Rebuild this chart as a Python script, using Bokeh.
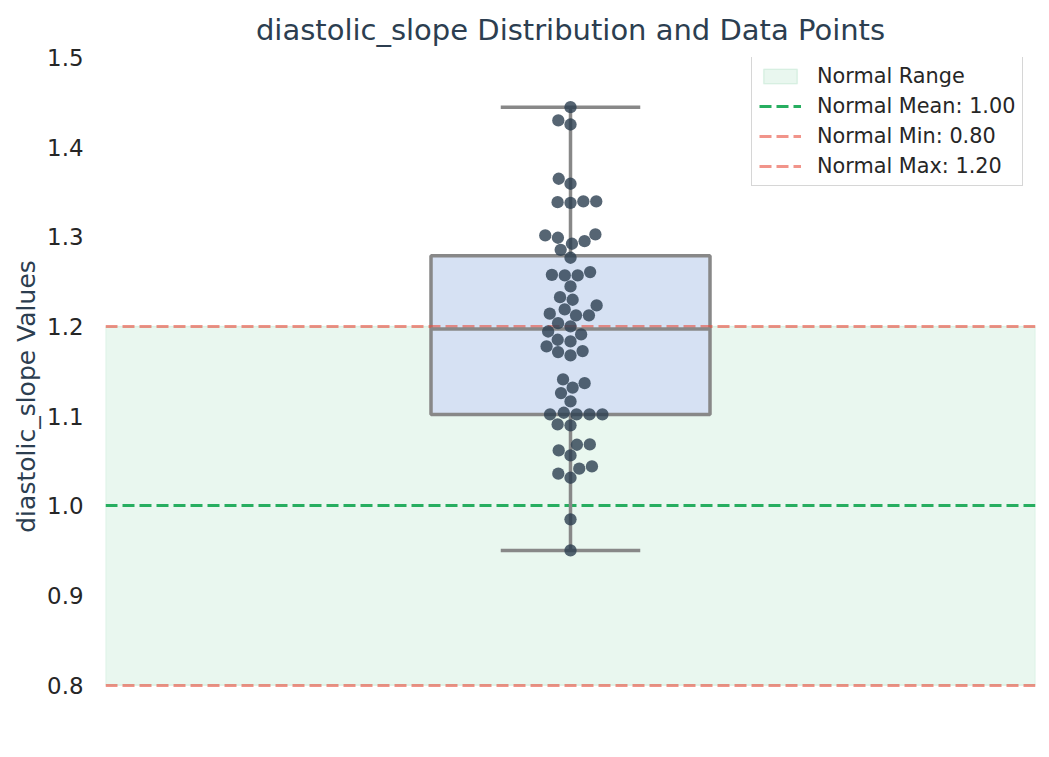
import numpy as np
from bokeh.plotting import figure
from bokeh.models import Range1d, FixedTicker, NumeralTickFormatter, Legend, LegendItem
from bokeh.embed import file_html
from bokeh.resources import INLINE

# ---------------- data ----------------
metric = "diastolic_slope"
values = [
    0.9504, 0.985,
    1.0314, 1.0359, 1.0415, 1.044,
    1.0563, 1.0619, 1.0682, 1.0686,
    1.0899, 1.0909,
    1.102, 1.102, 1.102, 1.102, 1.1039,
    1.1165, 1.1258, 1.1318, 1.1369, 1.141,
    1.1678, 1.1715, 1.1726, 1.1778,
    1.1834, 1.1853, 1.1912, 1.1945,
    1.2001, 1.2038,
    1.2125, 1.2125, 1.2143, 1.2191,
    1.2235, 1.2299, 1.2328, 1.2447,
    1.257, 1.257, 1.2577, 1.2607,
    1.2767, 1.2856, 1.2923, 1.2952,
    1.299, 1.3016, 1.3027,
    1.338, 1.3387, 1.3395, 1.3395,
    1.3592, 1.3648,
    1.4253, 1.4298, 1.4446,
]
normal_min = 0.80
normal_mean = 1.00
normal_max = 1.20
y_ticks = [0.8, 0.9, 1.0, 1.1, 1.2, 1.3, 1.4, 1.5]
y_lo, y_hi = 0.744, 1.5
title_text = f"{metric} Distribution and Data Points"

# ---------------- layout constants ----------------
W, H = 1041, 748
BL, BR, BT, BB = 105, 6, 57, 13
FRAME_W = W - BL - BR
FRAME_H = H - BT - BB
X_LO, X_HI = -0.5, 0.5
BOX_W = 0.3
CAP_W = 0.15
DOT_D = 12.3
FONT = "DejaVu Sans"

# ---------------- box statistics ----------------
v = np.asarray(values, dtype=float)
q1, med, q3 = np.percentile(v, [25, 50, 75])
iqr = q3 - q1
w_lo = v[v >= q1 - 1.5 * iqr].min()
w_hi = v[v <= q3 + 1.5 * iqr].max()


# ---------------- swarm layout (seaborn-like beeswarm, in pixels) ----------------
def beeswarm(vals, r, py_per_unit):
    vals = np.asarray(vals, dtype=float)
    order = np.argsort(vals, kind="stable")
    ys = vals[order] * py_per_unit
    swarm = []
    for y in ys:
        neighbors = []
        for (xj, yj) in reversed(swarm):
            if (y - yj) < 2 * r:
                neighbors.append((xj, yj))
            else:
                break
        cands = [0.0]
        left_first = True
        for (xj, yj) in neighbors:
            dy = y - yj
            dx = np.sqrt(max((2 * r) ** 2 - dy ** 2, 0)) * 1.05
            pair = [xj - dx, xj + dx] if left_first else [xj + dx, xj - dx]
            cands.extend(pair)
            left_first = not left_first
        cands = np.array(cands)
        cands = cands[np.argsort(np.abs(cands), kind="stable")]
        chosen = cands[0]
        if neighbors:
            nb = np.array(neighbors)
            for c in cands:
                d2 = (nb[:, 0] - c) ** 2 + (nb[:, 1] - y) ** 2
                if np.all(d2 >= (2 * r) ** 2):
                    chosen = c
                    break
        swarm.append((chosen, y))
    out = np.empty(len(vals))
    out[order] = [s[0] for s in swarm]
    return out


px_offsets = beeswarm(v, DOT_D / 2, FRAME_H / (y_hi - y_lo))
xs = px_offsets / (FRAME_W / (X_HI - X_LO))

# ---------------- figure ----------------
p = figure(
    width=W, height=H,
    x_range=Range1d(X_LO, X_HI), y_range=Range1d(y_lo, y_hi),
    output_backend="svg", toolbar_location=None,
    min_border_left=BL, min_border_right=BR, min_border_top=BT, min_border_bottom=BB,
    title=title_text,
)
p.background_fill_color = "white"
p.border_fill_color = "white"
p.outline_line_color = None
p.grid.visible = False
p.xaxis.visible = False

p.title.text_font = FONT
p.title.text_font_size = "29px"
p.title.text_font_style = "normal"
p.title.text_color = "#2c3e50"
p.title.align = "center"
p.title.standoff = 21

ya = p.yaxis[0]
ya.ticker = FixedTicker(ticks=y_ticks)
ya.formatter = NumeralTickFormatter(format="0.0")
ya.axis_label = f"{metric} Values"
ya.axis_label_text_font = FONT
ya.axis_label_text_font_size = "25px"
ya.axis_label_text_font_style = "normal"
ya.axis_label_text_color = "#2c3e50"
ya.axis_label_standoff = 3
ya.major_label_text_font = FONT
ya.major_label_text_font_size = "22.9px"
ya.major_label_text_color = "#262626"
ya.major_label_standoff = 22
ya.axis_line_color = None
ya.major_tick_line_color = None
ya.minor_tick_line_color = None
ya.major_tick_out = 0
ya.major_tick_in = 0
ya.minor_tick_out = 0

# normal range band
r_range = p.quad(left=X_LO, right=X_HI, bottom=normal_min, top=normal_max,
                 fill_color="#27ae60", fill_alpha=0.1,
                 line_color="#27ae60", line_alpha=0.12, line_width=1.5)

# box body
p.quad(left=-BOX_W / 2, right=BOX_W / 2, bottom=q1, top=q3,
       fill_color="#d6e1f3", line_color="#888888", line_width=3.5)

# reference lines
r_mean = p.hspan(y=[normal_mean], line_color="#27ae60", line_width=3, line_dash="12 5")
r_min = p.hspan(y=[normal_min], line_color="#e74c3c", line_alpha=0.6, line_width=3, line_dash="12 5")
r_max = p.hspan(y=[normal_max], line_color="#e74c3c", line_alpha=0.6, line_width=3, line_dash="12 5")

# whiskers, caps, median
p.segment(x0=[0, 0], y0=[q3, q1], x1=[0, 0], y1=[w_hi, w_lo],
          line_color="#888888", line_width=3.5)
p.segment(x0=[-CAP_W / 2, -CAP_W / 2], y0=[w_hi, w_lo], x1=[CAP_W / 2, CAP_W / 2], y1=[w_hi, w_lo],
          line_color="#888888", line_width=3.5)
p.segment(x0=[-BOX_W / 2], y0=[med], x1=[BOX_W / 2], y1=[med],
          line_color="#888888", line_width=3.5)

# data points
p.scatter(x=xs, y=v, size=DOT_D, fill_color="#2c3e50", fill_alpha=0.8, line_color=None)

legend = Legend(
    items=[
        LegendItem(label="Normal Range", renderers=[r_range]),
        LegendItem(label=f"Normal Mean: {normal_mean:.2f}", renderers=[r_mean]),
        LegendItem(label=f"Normal Min: {normal_min:.2f}", renderers=[r_min]),
        LegendItem(label=f"Normal Max: {normal_max:.2f}", renderers=[r_max]),
    ],
    location=(646, 549),
    label_text_font=FONT,
    label_text_font_size="20.8px",
    label_text_color="#262626",
    glyph_width=42, glyph_height=18,
    label_height=24, label_standoff=16,
    spacing=6, padding=7, margin=0,
    border_line_color="#cccccc", border_line_alpha=0.8, border_line_width=1.5,
    background_fill_color="white", background_fill_alpha=0.8,
)
p.add_layout(legend)

open("out.html", "w").write(file_html(p, INLINE))
